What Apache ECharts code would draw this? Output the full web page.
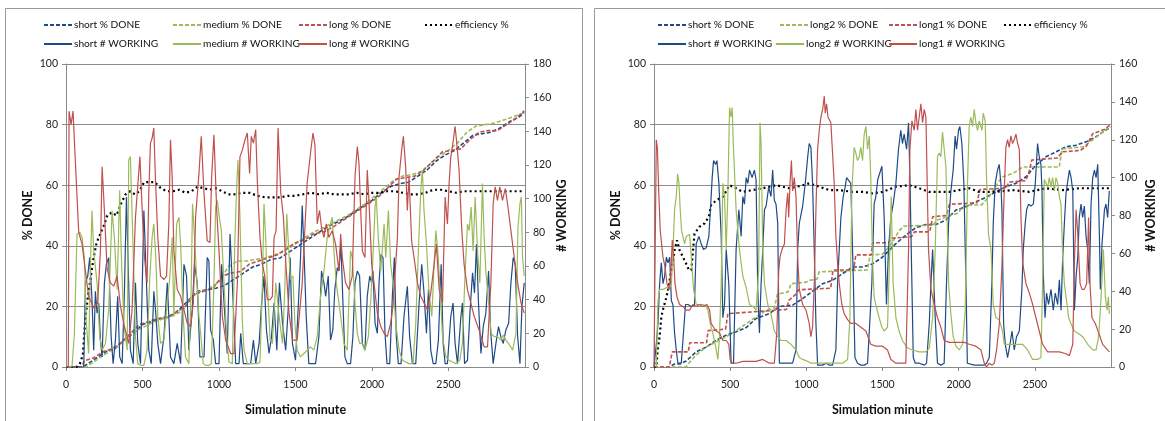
<!DOCTYPE html>
<html>
<head>
<meta charset="utf-8">
<script src="https://cdn.jsdelivr.net/npm/echarts@6/dist/echarts.min.js"></script>
<style>
  html, body { margin: 0; padding: 0; background: #fff; }
  #chart { width: 1165px; height: 421px; }
</style>
</head>
<body>
<div id="chart"></div>
<script>
// ---- left panel (short / medium / long) ----
var leftShortDone = [[0,0],[110,0],[140,1],[200,3],[260,5],[320,6],[380,9],[440,11],[500,14],[560,15],[620,16],[680,16.5],[740,19],[800,22],[860,25],[920,25.5],[980,26],[1040,27],[1100,29],[1160,31],[1220,33],[1280,34],[1340,35.5],[1400,36],[1460,38],[1520,40],[1580,42],[1640,44],[1700,46],[1760,47.5],[1820,49],[1880,51],[1940,53],[2000,55],[2060,57.5],[2120,59.5],[2180,60.5],[2240,61],[2300,63],[2360,65],[2420,68],[2480,70],[2540,71.5],[2600,74],[2660,76.5],[2720,77],[2780,77.5],[2840,79],[2900,81],[2960,82.5],[2995,84]];
var leftMediumDone = [[0,0],[130,0],[160,1],[220,3],[280,5],[340,7],[400,9.5],[460,12],[520,13.5],[580,15],[640,16],[700,17],[760,18.5],[820,23],[880,25],[940,26],[1000,28],[1060,33],[1120,35],[1180,35],[1240,35.5],[1300,36],[1360,37],[1420,38],[1480,40],[1540,42],[1600,44],[1660,45.5],[1720,47],[1780,48.5],[1840,50],[1900,52],[1960,54],[2020,56.5],[2080,59],[2140,61.5],[2200,63],[2260,63.5],[2320,64.5],[2380,67],[2440,69.5],[2500,71.5],[2560,74],[2620,77.5],[2680,79.5],[2740,80],[2800,80.5],[2860,81.5],[2920,82.5],[2995,84]];
var leftLongDone = [[0,0],[100,0],[120,2],[180,3],[240,5],[300,6],[360,8],[420,11],[480,14],[540,15],[600,16],[660,16.5],[720,18],[780,20],[840,24],[900,25],[960,26],[1020,30],[1080,31],[1140,31.5],[1200,34],[1260,35],[1320,36],[1380,37],[1440,39],[1500,41],[1560,42],[1620,44],[1680,44.5],[1740,46],[1800,48],[1860,50],[1920,52],[1980,54],[2040,56],[2100,59],[2160,62],[2220,62.5],[2280,63],[2340,65],[2400,68],[2460,71],[2520,71.5],[2580,72],[2640,75],[2700,77.5],[2760,78],[2820,78],[2880,80],[2940,82],[2995,84.5]];
var leftEfficiency = [[0,0],[70,0],[90,1],[110,4],[125,15],[140,22],[160,29],[180,36],[200,41],[225,44],[250,47],[270,50],[300,51],[330,50],[360,54],[390,57],[420,58],[450,57],[480,58],[510,61],[540,61],[580,61],[620,59],[660,58],[700,58],[740,58.5],[780,57.5],[820,58],[860,59.5],[900,59],[940,58.5],[980,59],[1020,58],[1060,57],[1100,57],[1150,57.5],[1200,57.5],[1250,56.5],[1300,56],[1350,56],[1400,56],[1450,56.5],[1500,56.5],[1550,57],[1600,57.5],[1650,57],[1700,57.5],[1750,57],[1800,57],[1850,57],[1900,57.5],[1950,57],[2000,57.5],[2050,57.5],[2100,58],[2150,58],[2200,57.5],[2250,57],[2300,57],[2350,57.5],[2400,58.5],[2450,58.5],[2500,58],[2550,57.5],[2600,58],[2650,58],[2700,58],[2750,58],[2800,58],[2850,58],[2900,58],[2950,58],[2995,58]];
var leftShortWorking = [[0,0],[116,0],[127,50],[142,54],[155,65],[170,40],[181,10],[192,45],[203,32],[214,38],[225,16],[236,6],[251,50],[264,61],[279,65],[295,18],[308,2],[323,16],[338,42],[351,6],[367,2],[382,45],[395,101],[404,69],[421,10],[439,2],[454,50],[469,14],[487,2],[509,93],[526,50],[541,10],[557,2],[574,45],[585,34],[600,14],[618,2],[640,18],[662,50],[672,30],[683,6],[705,2],[727,14],[749,2],[771,61],[788,54],[803,10],[825,34],[840,61],[858,50],[875,6],[902,6],[923,65],[934,63],[945,22],[963,16],[978,2],[1000,2],[1017,61],[1033,38],[1054,8],[1072,79],[1087,50],[1109,2],[1131,2],[1142,20],[1159,2],[1185,2],[1207,2],[1225,16],[1240,2],[1262,14],[1277,36],[1294,54],[1310,22],[1327,8],[1343,18],[1360,38],[1378,10],[1395,50],[1415,26],[1436,10],[1452,34],[1465,65],[1480,14],[1500,4],[1517,34],[1533,65],[1544,96],[1557,65],[1570,30],[1587,2],[1609,2],[1631,2],[1653,18],[1670,57],[1686,50],[1697,42],[1714,54],[1729,16],[1744,22],[1757,46],[1773,59],[1784,57],[1797,73],[1810,38],[1823,6],[1838,2],[1860,2],[1875,18],[1889,50],[1904,57],[1919,54],[1937,14],[1954,10],[1969,42],[1985,54],[1998,50],[2006,57],[2020,26],[2035,20],[2046,50],[2059,67],[2072,65],[2085,20],[2098,2],[2116,2],[2133,42],[2146,65],[2159,18],[2172,2],[2190,2],[2209,30],[2231,48],[2246,18],[2264,2],[2286,2],[2308,38],[2325,61],[2340,44],[2356,20],[2369,46],[2384,10],[2400,2],[2417,2],[2434,16],[2452,61],[2465,14],[2478,2],[2493,2],[2515,30],[2530,38],[2543,14],[2559,2],[2581,30],[2591,38],[2605,2],[2624,4],[2640,32],[2657,56],[2670,44],[2683,73],[2696,38],[2712,8],[2727,24],[2744,32],[2762,57],[2775,22],[2792,2],[2810,14],[2827,24],[2842,18],[2858,14],[2875,22],[2893,26],[2908,50],[2923,65],[2936,61],[2952,18],[2967,2],[2980,36],[2995,50]];
var leftMediumWorking = [[0,0],[39,0],[55,20],[72,79],[90,80],[105,77],[120,65],[133,26],[148,8],[160,61],[170,93],[181,69],[192,69],[203,50],[220,18],[236,10],[258,14],[279,34],[301,93],[316,77],[334,46],[351,105],[362,65],[378,26],[400,10],[410,123],[421,125],[439,69],[454,18],[469,2],[487,1],[509,1],[530,10],[548,54],[563,77],[574,85],[587,65],[600,30],[618,14],[640,16],[662,38],[679,54],[694,77],[705,30],[723,85],[738,89],[749,73],[766,30],[781,6],[803,2],[818,46],[827,97],[840,77],[853,54],[869,30],[880,20],[897,2],[912,1],[934,1],[950,2],[967,50],[978,95],[989,99],[1002,89],[1015,81],[1033,50],[1050,18],[1065,3],[1087,2],[1102,69],[1116,109],[1124,123],[1137,89],[1153,26],[1164,10],[1185,2],[1207,2],[1229,2],[1251,2],[1268,3],[1284,50],[1294,97],[1305,77],[1316,50],[1334,16],[1349,14],[1371,50],[1393,30],[1415,14],[1430,46],[1443,91],[1456,69],[1467,52],[1483,54],[1496,26],[1511,10],[1533,6],[1555,8],[1576,10],[1598,12],[1620,10],[1642,18],[1664,42],[1686,57],[1707,77],[1729,85],[1740,89],[1751,69],[1766,50],[1784,38],[1801,26],[1817,14],[1838,10],[1860,69],[1871,65],[1889,38],[1904,20],[1919,14],[1937,14],[1954,10],[1976,18],[1991,38],[2006,65],[2020,95],[2028,101],[2041,77],[2057,57],[2079,85],[2090,65],[2107,93],[2122,61],[2137,50],[2155,26],[2177,10],[2199,4],[2220,3],[2242,2],[2268,2],[2286,26],[2303,69],[2319,105],[2329,117],[2340,93],[2356,73],[2373,44],[2391,30],[2406,61],[2417,81],[2430,69],[2445,46],[2461,18],[2483,6],[2504,4],[2526,3],[2548,2],[2574,4],[2591,14],[2609,57],[2624,85],[2635,81],[2648,95],[2661,69],[2674,101],[2690,69],[2705,50],[2722,109],[2733,77],[2744,57],[2762,38],[2779,20],[2799,18],[2820,18],[2842,16],[2858,19],[2875,16],[2893,14],[2919,10],[2941,20],[2954,83],[2967,97],[2976,101],[2984,65],[2995,54]];
var leftLongWorking = [[0,0],[15,0],[20,152],[33,144],[46,152],[55,134],[68,109],[83,80],[105,73],[127,57],[148,42],[181,35],[207,38],[225,69],[236,119],[251,93],[268,59],[290,50],[312,48],[334,54],[356,36],[382,24],[410,14],[432,34],[454,89],[483,125],[498,93],[513,65],[530,50],[541,103],[552,133],[563,136],[574,142],[585,111],[600,77],[618,54],[640,52],[657,54],[672,85],[683,135],[694,113],[705,69],[727,46],[749,42],[771,34],[792,26],[814,24],[832,38],[847,89],[869,115],[884,137],[902,103],[923,75],[941,74],[952,113],[967,138],[985,93],[1000,69],[1022,30],[1044,16],[1076,8],[1098,8],[1120,50],[1137,125],[1153,129],[1170,135],[1185,139],[1200,115],[1211,137],[1225,133],[1240,141],[1251,109],[1268,77],[1284,61],[1299,54],[1316,40],[1334,40],[1349,42],[1360,77],[1373,81],[1386,142],[1404,103],[1421,89],[1436,63],[1458,32],[1480,16],[1511,16],[1544,50],[1576,109],[1598,127],[1614,139],[1627,132],[1642,85],[1657,93],[1670,83],[1686,77],[1701,85],[1718,77],[1740,81],[1762,73],[1784,57],[1795,79],[1806,65],[1827,50],[1849,46],[1871,54],[1889,113],[1904,131],[1915,121],[1926,93],[1937,69],[1954,65],[1969,117],[1980,99],[1998,61],[2013,50],[2035,32],[2057,24],[2079,20],[2100,18],[2122,26],[2137,36],[2166,77],[2177,113],[2194,129],[2205,137],[2220,119],[2231,93],[2242,113],[2259,75],[2281,61],[2297,50],[2319,42],[2340,38],[2362,34],[2384,44],[2406,61],[2421,73],[2439,46],[2461,38],[2478,101],[2493,85],[2504,109],[2515,125],[2526,131],[2543,143],[2554,133],[2569,117],[2587,81],[2602,61],[2624,46],[2646,38],[2668,30],[2700,22],[2733,12],[2755,12],[2777,50],[2792,97],[2805,107],[2820,99],[2835,107],[2853,99],[2871,106],[2886,97],[2908,81],[2930,65],[2952,50],[2974,38],[2995,32]];

// ---- right panel (short / long2 / long1) ----
var rightShortDone = [[0,0],[100,0],[135,1],[170,1],[212,2],[277,5],[343,6.6],[408,8.8],[474,10.5],[539,11.6],[605,13],[670,16],[757,17.6],[823,20],[910,20.4],[976,22.6],[1041,25],[1107,27.5],[1172,28.6],[1238,30.8],[1303,33],[1369,33],[1434,34],[1478,35.5],[1500,36.3],[1544,38.5],[1588,40.7],[1653,43.5],[1719,46],[1785,47],[1850,47],[1916,48.5],[1982,51.8],[2048,52.9],[2113,54.5],[2179,56],[2245,57.8],[2310,59.5],[2376,60.6],[2442,62.8],[2507,66.6],[2573,69.4],[2639,71],[2705,72.7],[2770,73.2],[2836,74.3],[2902,76],[2967,78.2],[2996,79]];
var rightLong2Done = [[0,0],[210,0],[234,1.6],[277,4],[343,6.6],[408,8.3],[474,10],[539,12],[605,14.3],[670,16.5],[736,18.7],[790,19.5],[810,24],[880,24.8],[900,27.5],[1000,28],[1020,28.6],[1070,29],[1085,31.4],[1280,31.8],[1400,32],[1420,37],[1500,37.2],[1560,40.7],[1610,45],[1640,46.5],[1830,46.8],[1860,48.5],[1990,50.7],[2040,53.4],[2150,53.5],[2200,56.2],[2260,61],[2290,62.8],[2360,64],[2420,66],[2660,66],[2680,72],[2820,72.7],[2880,75],[2945,77.6],[2996,79.3]];
var rightLong1Done = [[0,0],[100,0],[120,5],[225,5],[235,8],[345,8],[355,12],[470,12.5],[485,17.6],[870,19],[885,22],[930,24],[950,25.5],[1160,26],[1175,32],[1310,32],[1325,37],[1425,37],[1435,41],[1540,41],[1560,42.5],[1690,43],[1710,44.6],[1810,44.6],[1830,49.6],[1920,50],[1940,53.7],[2120,54.2],[2140,58.6],[2310,59],[2330,61],[2440,61.5],[2460,64],[2480,68.3],[2650,69],[2680,71],[2800,71.5],[2840,73],[2880,77],[2960,78.5],[2996,80]];
var rightEfficiency = [[0,0],[15,0],[26,6.6],[37,10],[48,16.5],[63,19.8],[76,22],[92,25.3],[103,25.3],[120,34],[135,38.5],[151,41.8],[168,38.5],[190,36.3],[212,34],[229,32],[245,32],[266,44],[299,46.3],[332,47.4],[360,49.6],[375,53.4],[408,55],[452,56.2],[496,60],[539,59],[583,57.8],[648,58.4],[714,59],[801,60],[888,59],[954,59.7],[1019,60.6],[1085,59.5],[1150,58.4],[1216,58.4],[1303,57.8],[1369,57.8],[1434,57.3],[1500,57.8],[1588,59.5],[1675,60],[1741,59],[1806,57.8],[1938,57.8],[2069,59],[2135,57.8],[2245,57.8],[2354,58.4],[2464,57.8],[2573,59],[2683,58.4],[2792,59],[2902,59],[2996,59]];
var rightShortWorking = [[0,0],[15,12],[26,23],[37,44],[48,55],[59,44],[70,48],[81,58],[92,55],[103,58],[114,35],[124,33],[135,18],[146,9],[157,2],[168,1],[179,2],[190,3],[207,33],[223,33],[234,32],[245,32],[266,33],[277,65],[295,69],[310,65],[325,62],[343,63],[360,69],[369,81],[382,100],[391,109],[404,107],[413,109],[426,97],[441,69],[452,26],[463,33],[474,62],[491,44],[506,2],[522,2],[539,62],[557,83],[572,69],[583,90],[594,86],[605,100],[616,97],[627,104],[644,100],[659,104],[670,99],[681,41],[692,18],[703,44],[714,62],[725,83],[736,85],[753,95],[768,90],[779,104],[790,88],[801,86],[812,76],[823,2],[845,2],[878,2],[910,2],[932,9],[943,62],[954,76],[976,85],[993,97],[1009,111],[1019,118],[1030,116],[1041,97],[1052,62],[1063,23],[1074,1],[1085,1],[1107,1],[1129,2],[1150,1],[1172,1],[1194,9],[1205,44],[1216,62],[1227,79],[1242,90],[1255,95],[1264,100],[1277,100],[1292,97],[1308,48],[1319,5],[1336,2],[1358,1],[1380,1],[1402,2],[1413,2],[1430,44],[1445,86],[1456,90],[1469,99],[1482,100],[1496,106],[1511,79],[1526,33],[1539,62],[1555,79],[1570,86],[1588,97],[1605,115],[1620,125],[1631,118],[1642,123],[1658,115],[1671,129],[1680,100],[1693,44],[1702,5],[1715,2],[1741,2],[1774,1],[1789,2],[1807,23],[1818,44],[1829,62],[1846,26],[1861,2],[1883,1],[1905,2],[1920,44],[1934,76],[1949,93],[1964,104],[1977,122],[1986,115],[1999,125],[2008,127],[2021,118],[2034,97],[2048,44],[2057,2],[2069,1],[2102,1],[2135,1],[2168,1],[2183,2],[2201,5],[2218,44],[2227,76],[2240,97],[2255,104],[2266,107],[2277,97],[2284,83],[2295,23],[2306,12],[2321,5],[2337,12],[2350,19],[2365,9],[2380,16],[2398,19],[2415,41],[2424,62],[2437,76],[2446,83],[2459,86],[2474,85],[2490,86],[2503,97],[2518,118],[2529,111],[2540,107],[2547,93],[2556,48],[2567,26],[2577,39],[2590,33],[2606,41],[2621,30],[2634,39],[2650,33],[2661,46],[2672,30],[2683,58],[2694,76],[2705,92],[2716,92],[2727,104],[2738,100],[2749,93],[2760,30],[2771,48],[2782,58],[2792,79],[2803,86],[2814,79],[2825,85],[2836,69],[2847,62],[2858,44],[2869,86],[2880,100],[2891,104],[2902,100],[2913,107],[2924,69],[2930,41],[2941,65],[2957,83],[2967,86],[2978,79],[2989,93]];
var rightLong2Working = [[0,0],[15,0],[26,35],[37,41],[48,41],[63,41],[81,42],[98,41],[114,44],[124,60],[135,83],[146,90],[155,102],[164,97],[172,83],[181,72],[190,69],[201,65],[212,69],[223,69],[234,70],[245,69],[260,41],[277,33],[299,33],[321,33],[343,32],[354,30],[369,23],[386,18],[404,11],[419,4],[430,16],[441,44],[452,97],[463,90],[474,62],[485,92],[496,137],[506,132],[513,137],[522,115],[539,83],[561,62],[583,48],[605,42],[627,33],[648,32],[670,30],[687,51],[696,129],[703,118],[714,62],[725,44],[747,33],[768,28],[790,19],[812,16],[834,14],[867,14],[899,12],[932,9],[954,5],[976,4],[1009,3],[1030,2],[1063,2],[1107,2],[1150,2],[1194,2],[1238,2],[1271,4],[1286,26],[1299,93],[1314,116],[1325,113],[1336,109],[1347,111],[1358,116],[1369,109],[1380,123],[1391,127],[1402,115],[1413,122],[1423,100],[1434,58],[1445,37],[1456,33],[1478,26],[1496,21],[1511,19],[1533,21],[1548,62],[1557,90],[1570,44],[1588,26],[1609,19],[1631,14],[1664,10],[1697,9],[1741,8],[1785,8],[1807,10],[1829,26],[1846,62],[1861,111],[1872,113],[1883,111],[1894,124],[1905,115],[1916,106],[1934,44],[1949,28],[1964,16],[1982,11],[2004,9],[2026,12],[2043,30],[2058,97],[2069,127],[2080,132],[2091,127],[2102,136],[2113,129],[2124,125],[2135,130],[2153,125],[2161,134],[2174,130],[2183,100],[2196,70],[2212,62],[2227,33],[2245,26],[2266,25],[2288,19],[2299,12],[2310,12],[2332,12],[2376,12],[2420,12],[2453,9],[2485,4],[2518,4],[2540,5],[2551,44],[2562,99],[2573,100],[2584,95],[2595,100],[2606,95],[2617,100],[2628,93],[2639,100],[2650,97],[2661,90],[2672,86],[2683,58],[2694,44],[2705,37],[2722,26],[2737,23],[2759,19],[2781,18],[2814,16],[2847,12],[2880,9],[2902,9],[2919,16],[2935,37],[2950,62],[2963,37],[2974,30],[2983,37],[2989,28]];
var rightLong1Working = [[0,0],[12,0],[15,120],[22,116],[31,93],[41,72],[50,65],[59,58],[72,53],[85,44],[98,41],[109,48],[120,67],[129,58],[138,44],[151,37],[168,33],[190,32],[212,30],[234,30],[255,33],[277,32],[299,33],[321,32],[347,33],[365,30],[375,23],[391,21],[408,19],[430,18],[452,14],[474,14],[491,12],[500,4],[513,2],[539,2],[583,3],[627,3],[670,3],[714,4],[757,2],[790,2],[806,18],[819,51],[827,58],[840,62],[856,65],[867,83],[878,92],[884,79],[893,97],[902,109],[910,93],[921,100],[932,90],[943,58],[954,41],[976,33],[998,30],[1019,23],[1030,16],[1041,21],[1052,44],[1063,83],[1074,115],[1085,125],[1096,132],[1107,136],[1118,143],[1124,134],[1133,139],[1142,132],[1150,132],[1161,129],[1172,130],[1183,97],[1194,69],[1205,55],[1216,44],[1233,33],[1249,28],[1271,25],[1292,23],[1325,23],[1358,21],[1391,19],[1423,12],[1456,11],[1500,11],[1533,9],[1555,4],[1588,2],[1631,2],[1653,2],[1671,62],[1680,115],[1693,130],[1708,125],[1719,136],[1730,125],[1741,132],[1752,139],[1763,129],[1774,136],[1785,132],[1802,62],[1818,41],[1840,33],[1861,26],[1883,21],[1905,14],[1938,13],[1971,13],[2004,13],[2037,13],[2069,12],[2113,11],[2146,9],[2168,2],[2183,0],[2201,2],[2218,1],[2234,2],[2249,9],[2267,23],[2284,53],[2299,93],[2310,116],[2321,120],[2332,116],[2343,122],[2354,118],[2365,120],[2376,123],[2387,118],[2398,115],[2409,79],[2420,55],[2442,44],[2464,39],[2486,33],[2507,26],[2529,19],[2551,12],[2584,8],[2617,8],[2661,8],[2705,7],[2727,6],[2749,12],[2760,55],[2771,83],[2782,70],[2797,44],[2810,41],[2825,41],[2840,44],[2853,79],[2862,44],[2875,26],[2897,23],[2919,18],[2945,12],[2967,10],[2989,8]];

var xTicks = [0, 500, 1000, 1500, 2000, 2500, 3000];
var leftRightMax = 180;
var rightRightMax = 160;

var BLUE = '#1f4a86', GREEN = '#9bbb59', RED = '#c0504d';
var FONT = 'Lato, "Liberation Sans", sans-serif';

var chart = echarts.init(document.getElementById('chart'), null, { renderer: 'canvas' });

function line(name, data, color, kind, xi, yi) {
  var ls = { color: color, width: 1.2, type: 'solid' };
  if (kind === 'dash') { ls.width = 1.6; ls.type = [4, 2]; }
  if (kind === 'dot') { ls.width = 2.2; ls.type = [2, 3]; }
  return {
    name: name, type: 'line', data: data,
    xAxisIndex: xi, yAxisIndex: yi,
    symbol: 'none', smooth: false, animation: false,
    itemStyle: { color: color },
    lineStyle: ls
  };
}

function xAx(gi) {
  return {
    type: 'value', gridIndex: gi, min: xTicks[0], max: xTicks[xTicks.length - 1], interval: 500,
    name: 'Simulation minute', nameLocation: 'middle', nameGap: 36,
    nameTextStyle: { fontFamily: FONT, fontWeight: 'bold', fontSize: 12.5, color: '#111' },
    axisLine: { show: true, lineStyle: { color: '#8a8a8a', width: 1 } },
    axisTick: { show: true, length: 4, lineStyle: { color: '#8a8a8a' } },
    axisLabel: { fontFamily: FONT, fontSize: 10.5, color: '#222', margin: 12, showMaxLabel: false,
      formatter: function (v) { return String(v); } },
    splitLine: { show: false }
  };
}
function yLeft(gi) {
  return {
    type: 'value', gridIndex: gi, min: 0, max: 100, interval: 20, position: 'left',
    name: '% DONE', nameLocation: 'middle', nameGap: 32, nameRotate: 90,
    nameTextStyle: { fontFamily: FONT, fontWeight: 'bold', fontSize: 12.5, color: '#111' },
    axisLine: { show: true, lineStyle: { color: '#8a8a8a', width: 1 } },
    axisTick: { show: true, length: 4, lineStyle: { color: '#8a8a8a' } },
    axisLabel: { fontFamily: FONT, fontSize: 10.5, color: '#222', margin: 8 },
    splitLine: { show: true, lineStyle: { color: '#8c8c8c', width: 1 } }
  };
}
function yRight(gi, max, gap) {
  return {
    type: 'value', gridIndex: gi, min: 0, max: max, interval: 20, position: 'right',
    name: '# WORKING', nameLocation: 'middle', nameGap: gap, nameRotate: 90,
    nameTextStyle: { fontFamily: FONT, fontWeight: 'bold', fontSize: 12.5, color: '#111' },
    axisLine: { show: true, lineStyle: { color: '#8a8a8a', width: 1 } },
    axisTick: { show: true, length: 4, lineStyle: { color: '#8a8a8a' } },
    axisLabel: { fontFamily: FONT, fontSize: 10.5, color: '#222', margin: 8 },
    splitLine: { show: false }
  };
}

function leg(name, left, top, w) {
  return {
    data: [name], left: left, top: top, padding: 0,
    itemWidth: w || 28, itemHeight: 12, itemGap: 0, selectedMode: false,
    itemStyle: { opacity: 0 },
    textStyle: { fontFamily: FONT, fontSize: 10.2, color: '#111', padding: [0, 0, 0, -3] }
  };
}

var option = {
  backgroundColor: '#fff',
  animation: false,
  graphic: [
    { type: 'rect', shape: { x: 5.5, y: 8.5, width: 577, height: 440 }, style: { fill: 'none', stroke: '#9a9a9a', lineWidth: 1 } },
    { type: 'rect', shape: { x: 594.5, y: 8.5, width: 590, height: 440 }, style: { fill: 'none', stroke: '#9a9a9a', lineWidth: 1 } }
  ],
  legend: [
    leg('short % DONE', 43, 20), leg('medium % DONE', 172, 20), leg('long % DONE', 298, 20), leg('efficiency %', 424, 20),
    leg('short # WORKING', 43, 39), leg('medium # WORKING', 172, 39), leg('long # WORKING', 298, 39),
    leg('short % DONE', 657, 20), leg('long2 % DONE', 779, 20), leg('long1 % DONE', 888, 20), leg('efficiency %', 1003, 20),
    leg('short # WORKING', 657, 39), leg('long2 # WORKING', 775, 39), leg('long1 # WORKING', 888, 39)
  ],
  grid: [
    { left: 66, right: 640, top: 64, bottom: 54 },
    { left: 654, right: 54, top: 64, bottom: 54 }
  ],
  xAxis: [xAx(0), xAx(1)],
  yAxis: [yLeft(0), yRight(0, leftRightMax, 26), yLeft(1), yRight(1, rightRightMax, 33)],
  series: [
    line('short % DONE', leftShortDone, BLUE, 'dash', 0, 0),
    line('medium % DONE', leftMediumDone, GREEN, 'dash', 0, 0),
    line('long % DONE', leftLongDone, RED, 'dash', 0, 0),
    line('efficiency %', leftEfficiency, '#000', 'dot', 0, 0),
    line('short # WORKING', leftShortWorking, BLUE, 'solid', 0, 1),
    line('medium # WORKING', leftMediumWorking, GREEN, 'solid', 0, 1),
    line('long # WORKING', leftLongWorking, RED, 'solid', 0, 1),

    line('short % DONE', rightShortDone, BLUE, 'dash', 1, 2),
    line('long2 % DONE', rightLong2Done, GREEN, 'dash', 1, 2),
    line('long1 % DONE', rightLong1Done, RED, 'dash', 1, 2),
    line('efficiency %', rightEfficiency, '#000', 'dot', 1, 2),
    line('short # WORKING', rightShortWorking, BLUE, 'solid', 1, 3),
    line('long2 # WORKING', rightLong2Working, GREEN, 'solid', 1, 3),
    line('long1 # WORKING', rightLong1Working, RED, 'solid', 1, 3)
  ]
};
chart.setOption(option);
</script>
</body>
</html>
